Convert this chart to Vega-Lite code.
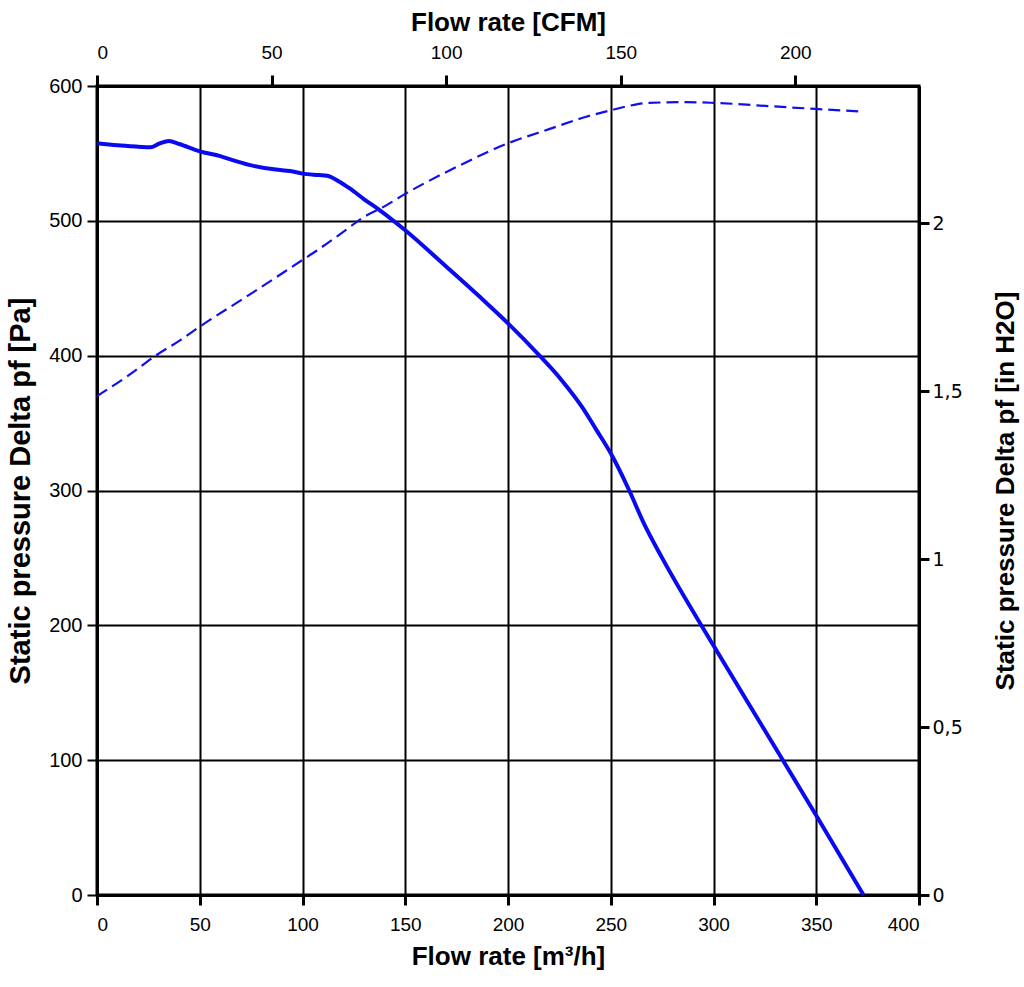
{
  "$schema": "https://vega.github.io/schema/vega-lite/v6.json",
  "width": 822,
  "height": 809,
  "autosize": {"type": "none"},
  "padding": {"left": 97, "top": 86, "right": 105, "bottom": 92},
  "background": "white",
  "config": {
    "view": {"stroke": "black", "strokeWidth": 3},
    "font": "Liberation Sans"
  },
  "datasets": {
    "curve": [
      {"q": 0, "p": 557.5}, {"q": 10, "p": 556}, {"q": 20, "p": 555}, {"q": 26, "p": 554.5},
      {"q": 30, "p": 557}, {"q": 35, "p": 559.3}, {"q": 40, "p": 557}, {"q": 50, "p": 551.5},
      {"q": 60, "p": 548}, {"q": 66, "p": 545}, {"q": 74, "p": 541.5}, {"q": 87, "p": 538},
      {"q": 94, "p": 537}, {"q": 100, "p": 535}, {"q": 108, "p": 534}, {"q": 112, "p": 533.5},
      {"q": 118, "p": 529}, {"q": 123, "p": 524}, {"q": 130, "p": 516}, {"q": 137.5, "p": 508},
      {"q": 150, "p": 493}, {"q": 170, "p": 466}, {"q": 186, "p": 444}, {"q": 200, "p": 424},
      {"q": 215, "p": 400.6}, {"q": 226, "p": 382}, {"q": 236, "p": 362}, {"q": 243, "p": 345},
      {"q": 250, "p": 327.6}, {"q": 259, "p": 300}, {"q": 266, "p": 276}, {"q": 275, "p": 250},
      {"q": 300, "p": 185}, {"q": 325, "p": 122}, {"q": 350, "p": 59}, {"q": 373, "p": 0}
    ],
    "dashed": [
      {"q": 0, "p": 370}, {"q": 15, "p": 385}, {"q": 29, "p": 400.5}, {"q": 40, "p": 411},
      {"q": 50, "p": 421.5}, {"q": 75, "p": 446}, {"q": 100, "p": 471}, {"q": 107, "p": 478},
      {"q": 120, "p": 492}, {"q": 130, "p": 503}, {"q": 139, "p": 510}, {"q": 150, "p": 520},
      {"q": 175, "p": 540}, {"q": 200, "p": 557.5}, {"q": 220, "p": 568}, {"q": 237.6, "p": 577},
      {"q": 250, "p": 582}, {"q": 258, "p": 585}, {"q": 268, "p": 587.5}, {"q": 287, "p": 588}, {"q": 300, "p": 587.5},
      {"q": 328, "p": 585}, {"q": 349.5, "p": 583}, {"q": 373, "p": 581}
    ],
    "cfm": [{"c": 0}, {"c": 200}],
    "inh2o": [{"h": 0}, {"h": 2}]
  },
  "layer": [
    {
      "layer": [
        {
          "data": {"name": "dashed"},
          "mark": {"type": "line", "color": "#1010ee", "strokeWidth": 2.2, "strokeDash": [12, 6], "interpolate": "monotone"},
          "encoding": {
            "x": {"field": "q", "type": "quantitative"},
            "y": {"field": "p", "type": "quantitative"}
          }
        },
        {
          "data": {"name": "curve"},
          "mark": {"type": "line", "color": "#0a0af0", "strokeWidth": 4, "interpolate": "monotone"},
          "encoding": {
            "x": {
              "field": "q", "type": "quantitative",
              "scale": {"domain": [0, 400], "nice": false, "zero": false},
              "axis": {
                "orient": "bottom", "values": [0, 50, 100, 150, 200, 250, 300, 350, 400],
                "grid": true, "gridColor": "black", "gridWidth": 2, "gridOpacity": 1,
                "domain": true, "domainColor": "black", "domainWidth": 3,
                "ticks": true, "tickColor": "black", "tickWidth": 3, "tickSize": 10,
                "labelFont": "Liberation Sans", "labelFontSize": 19, "labelColor": "black", "labelPadding": 10,
                "title": "Flow rate [m³/h]", "titleFont": "Liberation Sans", "titleFontSize": 26, "titleFontWeight": "bold", "titleColor": "black", "titlePadding": 9
              }
            },
            "y": {
              "field": "p", "type": "quantitative",
              "scale": {"domain": [0, 600], "nice": false},
              "axis": {
                "orient": "left", "values": [0, 100, 200, 300, 400, 500, 600],
                "grid": true, "gridColor": "black", "gridWidth": 2, "gridOpacity": 1,
                "domain": true, "domainColor": "black", "domainWidth": 3,
                "ticks": true, "tickColor": "black", "tickWidth": 2, "tickSize": 10,
                "labelFontSize": 20, "labelColor": "black", "labelPadding": 5,
                "title": "Static pressure Delta pf [Pa]", "titleFontSize": 29, "titleFontWeight": "bold", "titleColor": "black", "titlePadding": 13
              }
            }
          }
        }
      ]
    },
    {
      "data": {"name": "cfm"},
      "mark": {"type": "rule", "opacity": 0},
      "encoding": {
        "x": {
          "field": "c", "type": "quantitative",
          "scale": {"domain": [0, 235.43], "nice": false, "zero": false},
          "axis": {
            "orient": "top", "values": [0, 50, 100, 150, 200],
            "grid": false, "domain": true, "domainColor": "black", "domainWidth": 3,
            "ticks": true, "tickColor": "black", "tickWidth": 3, "tickSize": 11,
            "labelFontSize": 19, "labelColor": "black", "labelPadding": 13,
            "title": "Flow rate [CFM]", "titleFontSize": 26, "titleFontWeight": "bold", "titleColor": "black", "titlePadding": 8
          }
        }
      }
    },
    {
      "data": {"name": "inh2o"},
      "mark": {"type": "rule", "opacity": 0},
      "encoding": {
        "y": {
          "field": "h", "type": "quantitative",
          "scale": {"domain": [0, 2.4088], "nice": false, "zero": false},
          "axis": {
            "orient": "right", "values": [0, 0.5, 1, 1.5, 2],
            "labelExpr": "replace(format(datum.value, '~g'), '.', ',')",
            "grid": false, "domain": true, "domainColor": "black", "domainWidth": 3,
            "ticks": true, "tickColor": "black", "tickWidth": 3, "tickSize": 10,
            "labelFont": "DejaVu Sans", "labelFontSize": 19, "labelColor": "black", "labelPadding": 3,
            "title": "Static pressure Delta pf [in H2O]", "titleAngle": 270, "titleBaseline": "top", "titleFontSize": 26, "titleFontWeight": "bold", "titleColor": "black", "titlePadding": 30
          }
        }
      }
    }
  ],
  "resolve": {"scale": {"x": "independent", "y": "independent"}}
}
